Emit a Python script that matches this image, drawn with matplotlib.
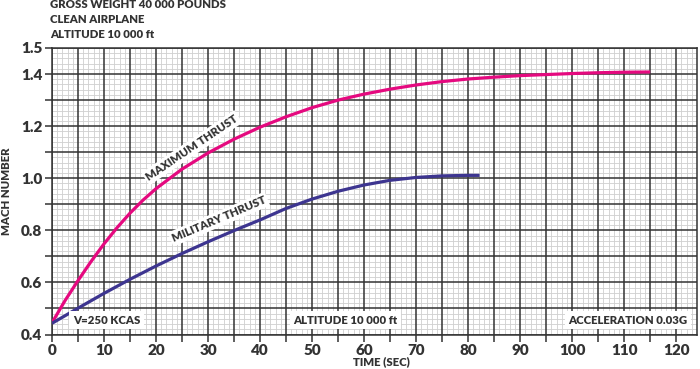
import matplotlib
matplotlib.use("Agg")
import numpy as np
import matplotlib.pyplot as plt
from matplotlib.ticker import MultipleLocator, FuncFormatter

plt.rcParams['font.family'] = ['Lato', 'DejaVu Sans']

# Data
max_time = [0, 2.5, 5, 7.5, 10, 12.5, 15, 17.5, 20, 25, 30, 35, 40, 45, 50, 55, 60,
            65, 70, 75, 80, 85, 90, 95, 100, 105, 110, 115]
max_mach = [0.445, 0.53, 0.607, 0.68, 0.748, 0.81, 0.866, 0.916, 0.96, 1.035, 1.097,
            1.150, 1.196, 1.236, 1.271, 1.300, 1.323, 1.342, 1.358, 1.371, 1.381,
            1.388, 1.394, 1.398, 1.402, 1.405, 1.407, 1.408]

mil_time = [0, 5, 10, 15, 20, 25, 30, 35, 40, 45, 50, 55, 60, 65, 70, 75, 80, 82.2]
mil_mach = [0.443, 0.501, 0.558, 0.612, 0.663, 0.711, 0.756, 0.799, 0.840, 0.884,
            0.920, 0.950, 0.974, 0.992, 1.003, 1.009, 1.011, 1.011]

header_lines = ["GROSS WEIGHT 40 000 POUNDS", "CLEAN AIRPLANE", "ALTITUDE 10 000 ft"]
y_labeled = [0.4, 0.6, 0.8, 1.0, 1.2, 1.4, 1.5]

TXT = '#333333'
PINK = '#E5097F'
BLUE = '#3D3590'
FS = 8.2
W = 'heavy'

XMAX, YMIN, YMAX = 124, 0.4, 1.5

fig = plt.figure(figsize=(7.0, 3.69), dpi=100)
ax = fig.add_axes([52/700, (369-334.5)/369, (697-52)/700, (334.5-48)/369])

ax.set_xlim(0, XMAX)
ax.set_ylim(YMIN, YMAX)

ax.xaxis.set_major_locator(MultipleLocator(5))
ax.yaxis.set_major_locator(MultipleLocator(0.1))

ax.xaxis.set_major_formatter(FuncFormatter(
    lambda v, p: f"{int(round(v))}" if round(v) % 10 == 0 else ""))
ax.yaxis.set_major_formatter(FuncFormatter(
    lambda v, p: f"{v:.1f}" if any(abs(v - l) < 1e-6 for l in y_labeled) else ""))

# graph-paper grid: light minor lines first, dark major lines on top
minor_x = [v for v in np.arange(0, XMAX + 0.01, 1) if round(v) % 5 != 0]
minor_y = [v for v in np.arange(YMIN, YMAX + 0.001, 0.02)
           if abs(v * 10 - round(v * 10)) > 1e-6]
major_x = np.arange(0, XMAX + 0.01, 5)
major_y = np.arange(YMIN, YMAX + 0.001, 0.1)
ax.vlines(minor_x, YMIN, YMAX, colors='#cfcfcf', linewidth=0.6, zorder=0.5)
ax.hlines(minor_y, 0, XMAX, colors='#cfcfcf', linewidth=0.6, zorder=0.5)
ax.vlines(major_x, YMIN, YMAX, colors='#333333', linewidth=1.1, zorder=1)
ax.hlines(major_y, 0, XMAX, colors='#333333', linewidth=1.1, zorder=1)

ax.tick_params(which='major', direction='out', length=5, width=1.1, color=TXT,
               labelsize=11, labelcolor=TXT, pad=2)
for lab in ax.get_xticklabels() + ax.get_yticklabels():
    lab.set_fontweight(W)
for s in ax.spines.values():
    s.set_color(TXT)
    s.set_linewidth(1.1)

ax.plot(max_time, max_mach, color=PINK, lw=2.3, solid_capstyle='butt', zorder=3)
ax.plot(mil_time, mil_mach, color=BLUE, lw=2.3, solid_capstyle='butt', zorder=3)

box = dict(facecolor='white', edgecolor='none', pad=1.5)
ax.text(26.9, 1.117, "MAXIMUM THRUST", rotation=34, ha='center', va='center',
        fontsize=FS, fontweight=W, color=TXT, bbox=box, zorder=4,
        rotation_mode='anchor')
ax.text(32.1, 0.843, "MILITARY THRUST", rotation=23, ha='center', va='center',
        fontsize=FS, fontweight=W, color=TXT, bbox=box, zorder=4,
        rotation_mode='anchor')

bbox2 = dict(facecolor='white', edgecolor='none', pad=2.5)
ax.text(4.0, 0.455, "V=250 KCAS", ha='left', va='center', fontsize=FS,
        fontweight=W, color=TXT, bbox=bbox2, zorder=4)
ax.text(46.4, 0.455, "ALTITUDE 10 000 ft", ha='left', va='center', fontsize=FS,
        fontweight=W, color=TXT, bbox=bbox2, zorder=4)
ax.text(99.2, 0.455, "ACCELERATION 0.03G", ha='left', va='center', fontsize=FS,
        fontweight=W, color=TXT, bbox=bbox2, zorder=4)

for i, line in enumerate(header_lines):
    fig.text(50/700, 1 - (5 + 14.5*i)/369, line, ha='left', va='center',
             fontsize=FS, fontweight=W, color=TXT)

fig.text(381/700, 1 - 362/369, "TIME (SEC)", ha='center', va='center',
         fontsize=FS, fontweight=W, color=TXT)
fig.text(7/700, 1 - 191/369, "MACH NUMBER", ha='center', va='center',
         rotation=90, fontsize=FS, fontweight=W, color=TXT)

fig.savefig("out.png", dpi=100)
